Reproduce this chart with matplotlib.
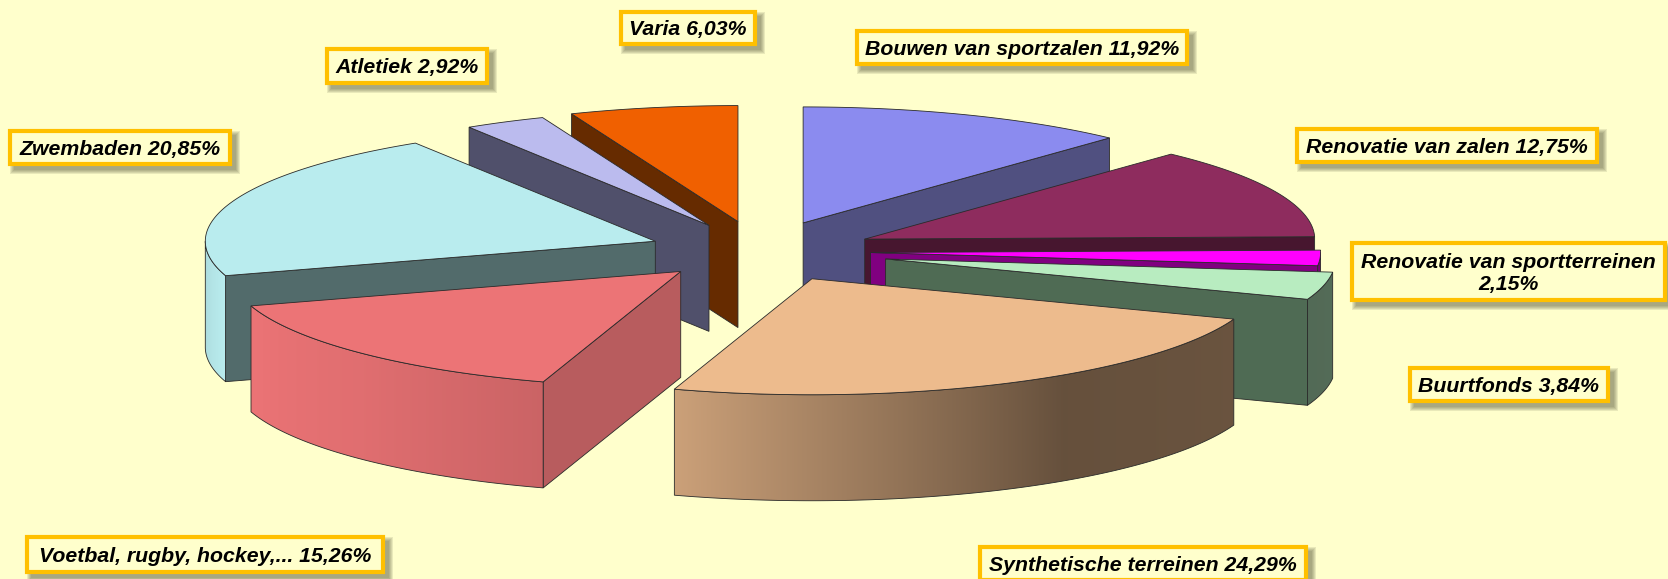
from __future__ import annotations

import matplotlib

matplotlib.use("Agg")
import matplotlib.colors as mcolors
import matplotlib.pyplot as plt
import numpy as np
from matplotlib.patches import Polygon, Rectangle

NAMES = [
    "Bouwen van sportzalen",
    "Renovatie van zalen",
    "Renovatie van sportterreinen",
    "Buurtfonds",
    "Synthetische terreinen",
    "Voetbal, rugby, hockey,...",
    "Zwembaden",
    "Atletiek",
    "Varia",
]
VALUES = [11.92, 12.75, 2.15, 3.84, 24.29, 15.26, 20.85, 2.92, 6.03]
EXPLODE = [0.262, 0.255, 0.246, 0.287, 0.264, 0.248, 0.248, 0.25, 0.26]

TOP_COLORS = ["#8b8bef", "#8e2c5e", "#ff00ff", "#b8ecc0", "#edbb8d", "#ec7476", "#b9ecee", "#bbbbee", "#f06000"]
CUT_COLORS = ["#505080", "#47162f", "#800080", "#4f6b54", "#66503a", "#b85c5e", "#526b6b", "#50506b", "#662b00"]

# outer label boxes: x0, y0, x1, y1 in pixels
BOXES = [
    (855, 29, 1189, 66),
    (1295, 127, 1599, 164),
    (1350, 241, 1667, 302),
    (1408, 366, 1610, 403),
    (978, 545, 1308, 582),
    (25, 535, 385, 574),
    (8, 129, 232, 166),
    (325, 47, 489, 85),
    (619, 10, 757, 46),
]

BG = "#ffffcc"
BORDER = "#ffc000"
LINE = "#2a2a2a"
CX, CY = 760, 251.2
A, B = 450, 116
DEPTH = 106
# back to front
DRAW_ORDER = [8, 7, 6, 5, 0, 1, 2, 3, 4]


def point(apex, deg):
    t = np.radians(deg)
    return apex[0] + A * np.sin(t), apex[1] - B * np.cos(t)


def rim_shade(deg):
    return np.interp(deg, [90, 146, 198, 225, 253, 270], [0.46, 0.43, 0.86, 0.95, 1.0, 0.92])


def draw_cut(ax, apex, deg, color, z):
    x, y = point(apex, deg)
    pts = [apex, (x, y), (x, y + DEPTH), (apex[0], apex[1] + DEPTH)]
    ax.add_patch(Polygon(pts, closed=True, fc=color, ec=LINE, lw=0.6, zorder=z))


def draw_rim(ax, apex, start, end, color, z):
    lo, hi = max(start, 90), min(end, 270)
    if hi <= lo:
        return
    degs = np.linspace(lo, hi, 200)
    xs, ys = point(apex, degs)
    outline = list(zip(xs, ys)) + list(zip(xs[::-1], ys[::-1] + DEPTH))
    edge = Polygon(outline, closed=True, fill=False, ec=LINE, lw=0.6, zorder=z + 0.01)
    ax.add_patch(edge)

    # the shading runs across the picture, one colour per pixel column
    x0, x1 = xs.min(), xs.max()
    cols = max(int(np.ceil(x1 - x0)), 2)
    col_x = np.linspace(x0, x1, cols)
    order = np.argsort(xs)
    col_deg = np.interp(col_x, xs[order], degs[order])
    base = np.array(mcolors.to_rgb(color))
    img = (base[None, :] * rim_shade(col_deg)[:, None])[None, :, :]
    extent = (x0, x1, ys.max() + DEPTH + 2, ys.min() - 2)
    im = ax.imshow(img, extent=extent, aspect="auto", interpolation="bilinear", zorder=z)
    im.set_clip_path(edge)


def draw_slice(ax, i, start, end, z):
    mid = np.radians((start + end) / 2)
    apex = (CX + EXPLODE[i] * A * np.sin(mid), CY - EXPLODE[i] * B * np.cos(mid))
    if np.sin(np.radians(start)) < 0:
        draw_cut(ax, apex, start, CUT_COLORS[i], z)
    if np.sin(np.radians(end)) > 0:
        draw_cut(ax, apex, end, CUT_COLORS[i], z)
    draw_rim(ax, apex, start, end, TOP_COLORS[i], z + 0.1)
    xs, ys = point(apex, np.linspace(start, end, 120))
    top = [apex] + list(zip(xs, ys))
    ax.add_patch(Polygon(top, closed=True, fc=TOP_COLORS[i], ec=LINE, lw=0.6, zorder=z + 0.2))


def draw_label(ax, box, text):
    x0, y0, x1, y1 = box
    w, h = x1 - x0, y1 - y0
    # soft shadow down and to the right
    for grow in (3, 2, 1, 0, -1):
        ax.add_patch(
            Rectangle((x0 + 5 - grow, y0 + 5 - grow), w + 2 * grow, h + 2 * grow, fc="#55553a", ec="none", alpha=0.13, zorder=50)
        )
    ax.add_patch(Rectangle((x0 + 2, y0 + 2), w - 4, h - 4, fc=BG, ec=BORDER, lw=3.0, joinstyle="miter", zorder=51))
    ax.text(
        (x0 + x1) / 2,
        (y0 + y1) / 2 + 2,
        text,
        ha="center",
        va="center",
        ma="center",
        fontsize=15.3,
        fontweight="bold",
        fontstyle="italic",
        family="Liberation Sans",
        color="black",
        linespacing=1.2,
        zorder=52,
    )


def main() -> None:
    fig = plt.figure(figsize=(16.68, 5.79), dpi=100)
    fig.patch.set_facecolor(BG)
    ax = fig.add_axes([0, 0, 1, 1])
    ax.axis("off")

    cum = np.concatenate([[0], np.cumsum(VALUES)]) / sum(VALUES) * 360
    for z, i in enumerate(DRAW_ORDER):
        draw_slice(ax, i, cum[i], cum[i + 1], 2 + z)

    for name, val, box in zip(NAMES, VALUES, BOXES):
        value = f"{val:.2f}".replace(".", ",") + "%"
        sep = "\n" if name == "Renovatie van sportterreinen" else " "
        draw_label(ax, box, name + sep + value)

    ax.set_xlim(0, 1668)
    ax.set_ylim(579, 0)

    fig.savefig("out.png", dpi=100, facecolor=BG)
    plt.close(fig)


if __name__ == "__main__":
    main()
